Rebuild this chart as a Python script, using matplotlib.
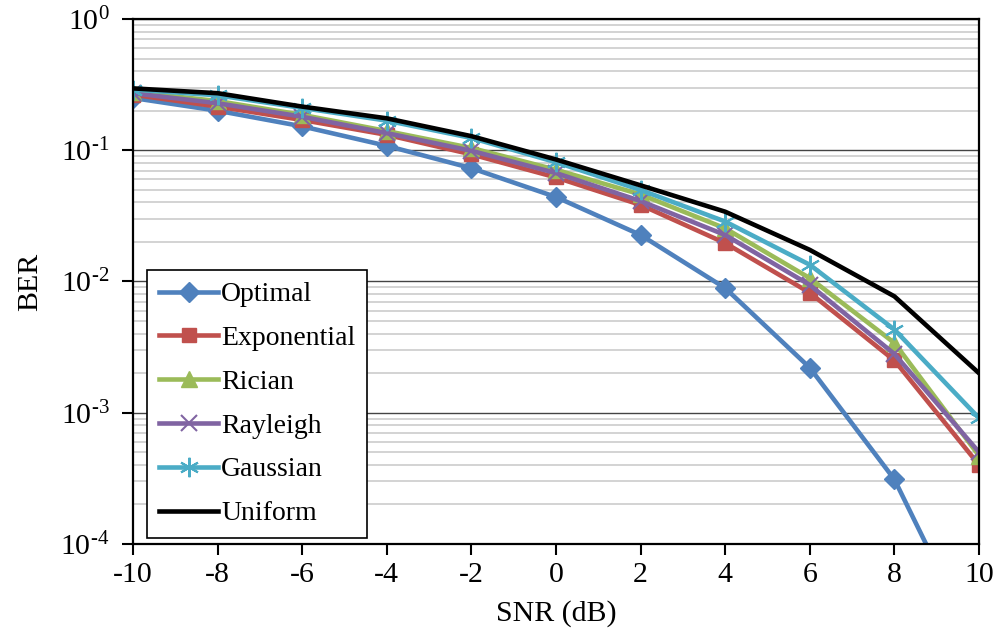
import numpy as np
import matplotlib
matplotlib.use("Agg")
import matplotlib.pyplot as plt
from matplotlib.ticker import FixedLocator, LogLocator

plt.rcParams['font.family'] = ['Liberation Serif', 'DejaVu Serif']
plt.rcParams['mathtext.fontset'] = 'custom'
plt.rcParams['mathtext.rm'] = 'Liberation Serif'
plt.rcParams['mathtext.it'] = 'Liberation Serif:italic'

# data
snr = [-10, -8, -6, -4, -2, 0, 2, 4, 6, 8, 10]
optimal = [0.25, 0.200, 0.152, 0.108, 0.073, 0.044, 0.0226, 0.0089, 0.0022, 0.00031, 0.000015]
exponential = [0.265, 0.215, 0.170, 0.131, 0.093, 0.062, 0.0383, 0.0196, 0.0082, 0.0025, 0.00040]
rician = [0.278, 0.237, 0.186, 0.140, 0.104, 0.071, 0.046, 0.0254, 0.0106, 0.0034, 0.00047]
rayleigh = [0.272, 0.228, 0.180, 0.135, 0.099, 0.067, 0.041, 0.0226, 0.0094, 0.0028, 0.00050]
gaussian = [0.29, 0.262, 0.210, 0.168, 0.124, 0.081, 0.0498, 0.0286, 0.0134, 0.0043, 0.00091]
uniform = [0.296, 0.272, 0.215, 0.175, 0.128, 0.085, 0.054, 0.034, 0.0174, 0.0077, 0.0020]
y_ticks = [1e-4, 1e-3, 1e-2, 1e-1, 1]
y_labels = [r'$10^{\text{-4}}$', r'$10^{\text{-3}}$', r'$10^{\text{-2}}$', r'$10^{\text{-1}}$', r'$10^{0}$']

fig = plt.figure(figsize=(9.98, 6.29), dpi=100)
ax = fig.add_axes([0.1333, 0.1352, 0.8477, 0.8346])

lw = 3.3
ax.plot(snr, optimal, color='#4F81BD', lw=lw, marker='D', ms=10, label='Optimal')
ax.plot(snr, exponential, color='#C0504D', lw=lw, marker='s', ms=10.5, label='Exponential')
ax.plot(snr, rician, color='#9BBB59', lw=lw, marker='^', ms=12, label='Rician')
ax.plot(snr, rayleigh, color='#8064A2', lw=lw, marker='x', ms=11, mew=1.5, label='Rayleigh')
ax.plot(snr, gaussian, color='#4BACC6', lw=lw, marker=(6, 2, 0), ms=14, mew=1.5, label='Gaussian')
ax.plot(snr, uniform, color='black', lw=lw, label='Uniform')

ax.set_yscale('log')
ax.set_ylim(1e-4, 1)
ax.set_xlim(-10, 10)
ax.xaxis.set_major_locator(FixedLocator(snr))
ax.set_xticklabels([str(v) for v in snr])
ax.set_yticks(y_ticks)
ax.set_yticklabels(y_labels)
ax.yaxis.set_minor_locator(LogLocator(base=10, subs=np.arange(2, 10), numticks=20))
ax.tick_params(axis='y', which='minor', length=0)
ax.tick_params(axis='both', which='major', direction='out', length=8, width=1.5,
               labelsize=21.5, colors='black', pad=5)
ax.tick_params(axis='y', which='major', pad=9)

ax.yaxis.grid(True, which='major', color='#444444', lw=1.0)
ax.yaxis.grid(True, which='minor', color='#d0d0d0', lw=1.3)
ax.set_axisbelow(True)
for s in ax.spines.values():
    s.set_linewidth(1.6)
    s.set_color('black')

ax.set_xlabel('SNR (dB)', fontsize=21.5, labelpad=9)
ax.set_ylabel('BER', fontsize=21.5, labelpad=12)

leg = ax.legend(loc='lower left', bbox_to_anchor=(0.0165, 0.0115), borderaxespad=0,
                fontsize=20, fancybox=False, edgecolor='black', framealpha=1,
                handlelength=2.15, handletextpad=0.1, labelspacing=0.66, borderpad=0.42)
leg.get_frame().set_linewidth(1.2)

fig.savefig('out.png', dpi=100)
